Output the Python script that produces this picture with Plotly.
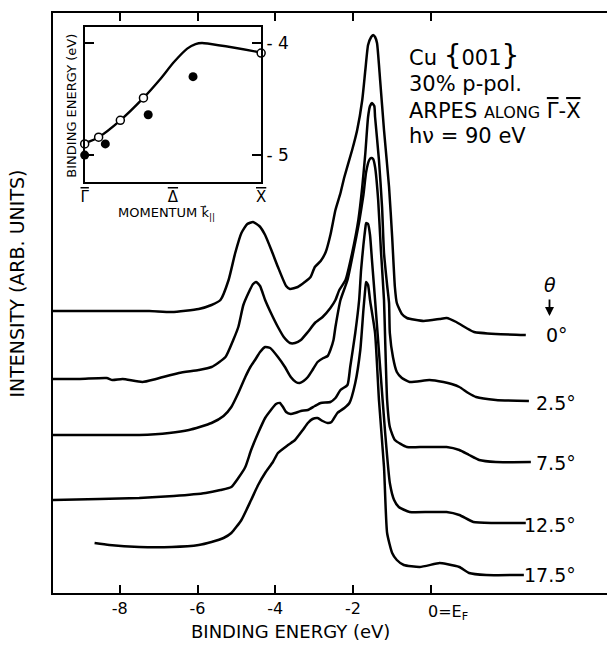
import plotly.graph_objects as go

# ARPES spectra Cu{001}, binding energy (eV) vs intensity (arb. units, curves already offset)
angles = ['0°', '2.5°', '7.5°', '12.5°', '17.5°']

e_00 = [-9.72, -8.52, -7.24, -6.66, -5.97, -5.64, -5.41, -5.20, -5.03, -4.87, -4.72, -4.57, -4.41, -4.26,
        -4.08, -3.93, -3.72, -3.62, -3.42, -3.24, -3.09, -2.98, -2.83, -2.70, -2.58, -2.45, -2.32, -2.22,
        -2.02, -1.89, -1.76, -1.68, -1.61, -1.53, -1.48, -1.43, -1.38, -1.30, -1.20, -1.07, -0.99, -0.92,
        -0.87, -0.74, -0.61, -0.18, 0.23, 0.41, 0.66, 0.92, 1.12, 1.68, 2.45]
i_00 = [282, 282, 282, 281, 284, 288, 293, 313, 340, 360, 369, 371, 367, 358,
        341, 326, 307, 304, 306, 311, 316, 326, 332, 341, 358, 383, 400, 416,
        443, 463, 493, 523, 548, 556, 558, 556, 550, 513, 463, 406, 356, 306,
        290, 279, 275, 272, 274, 275, 271, 265, 261, 259, 258]

e_25 = [-9.72, -9.03, -8.34, -8.19, -7.93, -7.42, -7.07, -6.48, -5.97, -5.64, -5.28, -5.08, -4.95, -4.82,
        -4.69, -4.57, -4.49, -4.39, -4.26, -4.11, -3.93, -3.78, -3.62, -3.49, -3.34, -3.16, -2.98, -2.78,
        -2.58, -2.45, -2.35, -2.19, -2.02, -1.86, -1.76, -1.68, -1.61, -1.56, -1.51, -1.45, -1.43, -1.33,
        -1.25, -1.20, -1.12, -1.07, -1.05, -0.97, -0.87, -0.74, -0.54, -0.03, 0.33, 0.54, 0.74, 0.97,
        1.17, 1.68, 2.53]
i_25 = [214, 214, 215, 213, 214, 211, 214, 220, 223, 226, 236, 253, 266, 288,
        300, 309, 311, 307, 293, 280, 266, 256, 250, 250, 253, 261, 270, 276,
        285, 293, 303, 313, 340, 373, 406, 440, 476, 487, 490, 487, 476, 433,
        386, 340, 308, 290, 260, 236, 221, 215, 211, 213, 211, 209, 206, 200,
        196, 193, 192]

e_75 = [-9.72, -8.52, -7.50, -6.73, -6.22, -5.64, -5.33, -5.13, -4.95, -4.77, -4.64, -4.52, -4.39, -4.26,
        -4.13, -3.93, -3.75, -3.60, -3.47, -3.37, -3.27, -3.16, -3.04, -2.91, -2.76, -2.65, -2.58, -2.50,
        -2.45, -2.32, -2.14, -1.99, -1.84, -1.73, -1.66, -1.58, -1.53, -1.48, -1.43, -1.35, -1.28, -1.20,
        -1.17, -1.12, -1.05, -0.92, -0.61, -0.18, 0.23, 0.41, 0.74, 0.99, 1.25, 1.68, 2.58]
i_75 = [158, 158, 158, 160, 163, 170, 177, 186, 200, 216, 226, 233, 241, 246,
        245, 236, 226, 216, 211, 210, 212, 216, 223, 231, 235, 237, 243, 253,
        266, 293, 313, 341, 371, 398, 421, 433, 435, 434, 426, 393, 343, 293,
        253, 193, 166, 153, 146, 146, 146, 146, 143, 138, 133, 131, 131]

e_125 = [-9.72, -8.52, -7.50, -6.61, -5.79, -5.41, -5.13, -4.95, -4.77, -4.62, -4.44, -4.26, -4.11, -3.98,
         -3.88, -3.80, -3.72, -3.60, -3.49, -3.34, -3.16, -2.98, -2.83, -2.58, -2.45, -2.32, -2.14, -2.07,
         -1.94, -1.84, -1.79, -1.73, -1.68, -1.66, -1.61, -1.56, -1.51, -1.43, -1.30, -1.17, -1.05, -0.94,
         -0.82, -0.54, -0.03, 0.41, 0.74, 1.10, 1.61, 2.45]
i_125 = [93, 94, 95, 97, 100, 103, 106, 115, 126, 143, 160, 175, 183, 189,
         190, 186, 181, 179, 180, 182, 183, 187, 190, 191, 195, 203, 208, 226,
         260, 293, 323, 348, 365, 370, 369, 358, 333, 293, 226, 160, 110, 93,
         86, 81, 81, 81, 78, 71, 70, 70]

e_175 = [-8.65, -8.27, -7.50, -6.66, -5.97, -5.64, -5.33, -5.13, -4.87, -4.62, -4.44, -4.26, -4.06, -3.93,
         -3.67, -3.49, -3.29, -3.16, -3.04, -2.91, -2.78, -2.65, -2.55, -2.40, -2.22, -2.09, -1.94, -1.81,
         -1.73, -1.68, -1.66, -1.61, -1.56, -1.43, -1.33, -1.20, -1.12, -0.99, -0.87, -0.69, -0.28, 0.23,
         0.41, 0.74, 0.99, 1.43, 2.40]
i_175 = [50, 48, 46, 46, 48, 51, 55, 60, 73, 93, 108, 120, 131, 140,
         148, 153, 163, 170, 174, 175, 172, 170, 171, 180, 185, 190, 210, 243,
         283, 305, 311, 308, 293, 260, 193, 126, 60, 40, 33, 28, 26, 30,
         29, 26, 20, 18, 18]

energies = [e_00, e_25, e_75, e_125, e_175]
intensities = [i_00, i_25, i_75, i_125, i_175]

# inset: peak binding energy vs momentum along Gamma-X
k_open = [0.0, 0.079, 0.202, 0.333, 1.0]
be_open = [-4.90, -4.84, -4.69, -4.49, -4.09]
k_filled = [0.0, 0.117, 0.36, 0.614]
be_filled = [-5.00, -4.90, -4.64, -4.30]
k_line = [0.0, 0.079, 0.202, 0.333, 0.424, 0.506, 0.581, 0.628, 0.665, 1.0]
be_line = [-4.895, -4.84, -4.69, -4.49, -4.33, -4.17, -4.05, -4.01, -4.00, -4.085]

FONT = 'DejaVu Sans'


def bar(s):
    return '<span style="text-decoration:overline">' + s + '</span>'


GAM, DEL, XB = bar('\u0393'), bar('\u0394'), bar('X')

fig = go.Figure()

for e, i in zip(energies, intensities):
    fig.add_trace(go.Scatter(x=e, y=i, mode='lines', line=dict(color='black', width=2.5, shape='spline', smoothing=0.5),
                             showlegend=False, hoverinfo='skip'))

# inset traces
fig.add_trace(go.Scatter(x=k_line, y=be_line, mode='lines', line=dict(color='black', width=2.4, shape='spline', smoothing=0.6),
                         xaxis='x2', yaxis='y2', showlegend=False, cliponaxis=False))
fig.add_trace(go.Scatter(x=k_filled, y=be_filled, mode='markers', marker=dict(color='black', size=9),
                         xaxis='x2', yaxis='y2', showlegend=False, cliponaxis=False))
fig.add_trace(go.Scatter(x=k_open, y=be_open, mode='markers',
                         marker=dict(color='white', size=8, line=dict(color='black', width=1.5)),
                         xaxis='x2', yaxis='y2', showlegend=False, cliponaxis=False))

fig.update_layout(
    width=612, height=648,
    margin=dict(l=53, r=0, t=13, b=55),
    paper_bgcolor='white', plot_bgcolor='white',
    font=dict(family=FONT, color='black'),
    xaxis=dict(range=[-9.72, 4.54], showgrid=False, zeroline=False, showline=True, linecolor='black', linewidth=2,
               mirror='ticks', ticks='inside', ticklen=8, tickwidth=2, tickcolor='black',
               tickvals=[-8, -6, -4, -2, 0], ticktext=['-8', '-6', '-4', '-2', ''],
               tickfont=dict(size=16)),
    yaxis=dict(range=[0, 580], showgrid=False, zeroline=False, showline=True, linecolor='black', linewidth=2,
               showticklabels=False, ticks=''),
    xaxis2=dict(domain=[0.0572, 0.3757], anchor='y2', range=[0, 1], showgrid=False, zeroline=False,
                showline=True, linecolor='black', linewidth=2, mirror=True, ticks='',
                tickvals=[0, 0.5, 1], ticktext=[GAM, DEL, XB],
                tickfont=dict(size=15)),
    yaxis2=dict(domain=[0.7086, 0.9759], anchor='x2', range=[-5.24, -3.857], side='right', showgrid=False,
                zeroline=False, showline=True, linecolor='black', linewidth=2, mirror='ticks',
                ticks='inside', ticklen=9, tickwidth=2, tickcolor='black',
                tickvals=[-4, -5], ticktext=['- 4', '- 5'], tickfont=dict(size=17)),
)

ann = []
ann.append(dict(x=-0.12, y=-0.033, xref='x', yref='paper', text='0=E<sub>F</sub>', showarrow=False,
                xanchor='left', yanchor='middle', font=dict(size=16)))
ann.append(dict(x=-3.6, y=-0.067, xref='x', yref='paper', text='BINDING ENERGY (eV)', showarrow=False,
                xanchor='center', yanchor='middle', font=dict(size=18)))
ann.append(dict(x=-0.0644, y=0.534, xref='paper', yref='paper', text='INTENSITY (ARB. UNITS)', showarrow=False,
                textangle=-90, xanchor='center', yanchor='middle', font=dict(size=19)))
# inset labels
ann.append(dict(x=0.034, y=0.84, xref='paper', yref='paper', text='BINDING ENERGY (eV)', showarrow=False,
                textangle=-90, xanchor='center', yanchor='middle', font=dict(size=13)))
ann.append(dict(x=0.204, y=0.655, xref='paper', yref='paper', text='MOMENTUM k\u20d7<sub>||</sub>', showarrow=False,
                xanchor='center', yanchor='middle', font=dict(size=13)))
# sample info block
info = ['Cu <span style="font-size:28px">{</span>001<span style="font-size:28px">}</span>',
        '30% p-pol.',
        'ARPES <span style="font-size:16px">ALONG</span> ' + GAM + '-' + XB,
        'h\u03bd = 90 eV']
info_y = [538, 509, 482, 457]
for t, yy in zip(info, info_y):
    ann.append(dict(x=-0.61, y=yy, xref='x', yref='y', text=t, showarrow=False, xanchor='left',
                    yanchor='middle', font=dict(size=21)))
# angle labels
ann.append(dict(x=2.91, y=258, xref='x', yref='y', text=angles[0], showarrow=False, xanchor='left',
                yanchor='middle', font=dict(size=19)))
for t, yy in zip(angles[1:], [190, 130, 68, 18]):
    ann.append(dict(x=3.80, y=yy, xref='x', yref='y', text=t, showarrow=False, xanchor='right',
                    yanchor='middle', font=dict(size=19)))
ann.append(dict(x=3.06, y=308, xref='x', yref='y', text='<i>\u03b8</i>', showarrow=False, xanchor='center',
                yanchor='middle', font=dict(size=19)))
ann.append(dict(x=3.06, y=277, ax=3.06, ay=295, xref='x', yref='y', axref='x', ayref='y', text='',
                showarrow=True, arrowhead=2, arrowsize=1, arrowwidth=1.8, arrowcolor='black'))
fig.update_layout(annotations=ann)

fig.write_html("out.html", config={'displayModeBar': False}, post_script="document.body.style.margin='0';")
